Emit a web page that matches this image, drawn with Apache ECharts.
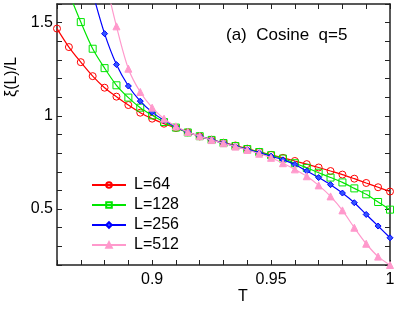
<!DOCTYPE html>
<html><head><meta charset="utf-8">
<script src="https://cdn.jsdelivr.net/npm/echarts@6/dist/echarts.min.js"></script>
<style>html,body{margin:0;padding:0;background:#fff}#c{width:399px;height:311px}</style>
</head><body><div id="c"></div>
<script>
// ---- data ----
const T = [0.86,0.865,0.87,0.875,0.88,0.885,0.89,0.895,0.9,0.905,0.91,0.915,0.92,0.925,0.93,0.935,0.94,0.945,0.95,0.955,0.96,0.965,0.97,0.975,0.98,0.985,0.99,0.995,1.0];
const seriesNames = ['L=64','L=128','L=256','L=512'];
const L64  = [1.468,1.369,1.288,1.213,1.151,1.103,1.058,1.017,0.985,0.958,0.935,0.912,0.890,0.872,0.856,0.841,0.824,0.807,0.791,0.775,0.758,0.741,0.723,0.704,0.685,0.663,0.640,0.617,0.594];
const L128 = [null,1.66,1.503,1.360,1.256,1.164,1.098,1.044,1.003,0.967,0.937,0.911,0.891,0.871,0.854,0.838,0.822,0.806,0.789,0.771,0.746,0.721,0.695,0.669,0.643,0.611,0.579,0.538,0.497];
const L256 = [null,null,null,1.66,1.441,1.275,1.160,1.079,1.020,0.976,0.940,0.912,0.891,0.871,0.854,0.837,0.820,0.802,0.784,0.764,0.739,0.704,0.669,0.631,0.586,0.534,0.471,0.409,0.346];
const L512 = [null,null,null,null,1.75,1.480,1.253,1.128,1.044,0.985,0.944,0.913,0.891,0.870,0.853,0.835,0.817,0.797,0.775,0.746,0.713,0.676,0.627,0.568,0.493,0.400,0.314,0.245,0.200];
const xTickLabels = ['0.9','0.95','1'];
const yTickLabels = ['0.5','1','1.5'];
const titleText = '(a)  Cosine  q=5';
const xName = 'T';
const yName = 'ξ(L)/L';

// ---- chart ----
const FONT = '"Liberation Sans", Arial, sans-serif';
const AX = '#222';
function pairs(vals){ return T.map((t,i)=> vals[i]==null ? null : [t, vals[i]]).filter(Boolean); }
function fmt(list){ return v => { for (const s of list) if (Math.abs(Number(s)-v) < 1e-6) return s; return ''; }; }

const chart = echarts.init(document.getElementById('c'), null, {renderer:'canvas'});
const axisLine = {show:true, onZero:false, lineStyle:{color:AX, width:1.5}};
const tick = {show:true, inside:true, length:5, interval:0, lineStyle:{color:AX, width:1}};
function xa(pos, labels){
  return {type:'value', position:pos, min:0.86, max:1, interval:0.01,
    axisLine, axisTick:tick, splitLine:{show:false},
    axisLabel: labels ? {show:true, interval:0, formatter:fmt(xTickLabels), fontSize:16, color:'#000', fontFamily:FONT, margin:7} : {show:false}};
}
function ya(pos, labels){
  return {type:'value', position:pos, min:0.2, max:1.6, interval:0.1,
    axisLine, axisTick:tick, splitLine:{show:false},
    axisLabel: labels ? {show:true, interval:0, formatter:fmt(yTickLabels), fontSize:16, color:'#000', fontFamily:FONT, margin:4} : {show:false}};
}
const styles = [
  {data:L64,  color:'#ff0000', symbol:'circle',  size:7, fill:'transparent'},
  {data:L128, color:'#00e600', symbol:'rect',    size:7, fill:'transparent'},
  {data:L256, color:'#0000ff', symbol:'diamond', size:6, fill:'#3355ff'},
  {data:L512, color:'#ff99cc', symbol:'triangle',size:7, fill:'#ff99cc'}
];
chart.setOption({
  animation:false,
  textStyle:{fontFamily:FONT},
  title:{text:titleText, left:221, top:22, textStyle:{fontSize:17, fontWeight:'normal', color:'#000', fontFamily:FONT}},
  grid:{left:57, right:9, top:4, bottom:46, containLabel:false},
  xAxis:[xa('bottom', true), xa('top', false)],
  yAxis:[ya('left', true), ya('right', false)],
  legend:{orient:'vertical', left:86, top:172, itemWidth:34, itemHeight:7, itemGap:4,
    textStyle:{fontSize:16, color:'#000', fontFamily:FONT, lineHeight:16, padding:[0,0,0,3]},
    data:seriesNames},
  graphic:[
    {type:'text', x:243, y:297, style:{text:xName, font:'16px '+FONT, fill:'#000', align:'center', verticalAlign:'middle'}},
    {type:'text', x:12, y:77, rotation:Math.PI/2, style:{text:yName, font:'16px '+FONT, fill:'#000', align:'center', verticalAlign:'middle'}}
  ],
  series: styles.map((s,i)=>({
    name:seriesNames[i], type:'line', xAxisIndex:0, yAxisIndex:0,
    data:pairs(s.data), smooth:0.3, clip:true,
    symbol:s.symbol, symbolSize:s.size, showAllSymbol:true,
    lineStyle:{color:s.color, width:1.2},
    itemStyle:{color:s.fill, borderColor:s.color, borderWidth:1},
    z:2+i
  }))
});
</script></body></html>
